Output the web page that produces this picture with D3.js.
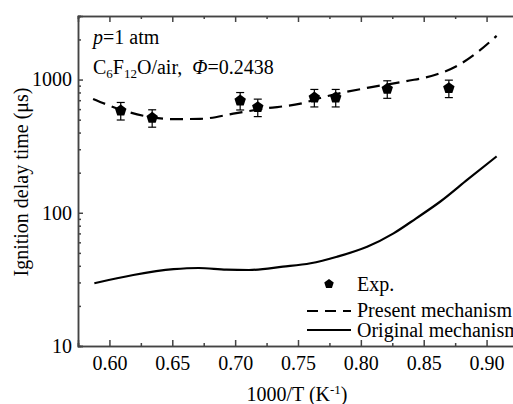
<!DOCTYPE html>
<html lang="en">
<head>
  <meta charset="UTF-8">
  <title>Ignition delay time</title>
  <style>
    body { margin: 0; background: #fff; }
    svg text { font-family: "Times New Roman", "Liberation Serif", "DejaVu Serif", serif; }
  </style>
</head>
<body>
  <svg id="svg" width="513" height="404"></svg>

  <script src="https://d3js.org/d3.v7.min.js"></script>
  <script>
    // experimental points
    const expX = [0.609, 0.634, 0.704, 0.718, 0.763, 0.780, 0.821, 0.870]
    const expY = [585, 516, 695, 620, 733, 733, 851, 861]
    const expErr = [88, 77, 104, 93, 110, 110, 128, 129]

    // present mechanism (dashed)
    const presX = [0.587, 0.609, 0.634, 0.650, 0.672, 0.701, 0.722, 0.752, 0.773, 0.805, 0.836, 0.860, 0.876, 0.892, 0.908]
    const presY = [716, 595, 520, 505, 507, 560, 603, 660, 750, 866, 972, 1090, 1259, 1585, 2130]

    // original mechanism (solid)
    const origX = [0.588, 0.619, 0.651, 0.671, 0.693, 0.711, 0.738, 0.760, 0.781, 0.805, 0.826, 0.844, 0.863, 0.885, 0.908]
    const origY = [29.6, 34.1, 37.7, 38.5, 37.4, 37.2, 39.4, 41.8, 46.8, 55.6, 70.1, 90.9, 121, 178, 265]

    const xMajor = [0.60, 0.65, 0.70, 0.75, 0.80, 0.85, 0.90]
    const xMinor = [0.575, 0.625, 0.675, 0.725, 0.775, 0.825, 0.875, 0.925]
    const yMajor = [10, 100, 1000]
    const yMinor = [20, 30, 40, 50, 60, 70, 80, 90, 200, 300, 400, 500, 600, 700, 800, 900, 2000, 3000]

    const serif = '"Times New Roman", "Liberation Serif", serif'
    const fs = 20
    const svg = d3.select('#svg').attr('font-family', serif)
    const axisColor = '#444'

    const x = d3.scaleLinear()
      .domain([0.575, 0.925])
      .range([78, 518])

    const y = d3.scaleLog()
      .domain([10, 3000])
      .range([346, 16])

    // bottom axis
    svg.append('g')
      .attr('transform', 'translate(0,346)')
      .call(d3.axisBottom(x).tickValues(xMajor).tickSize(-6).tickPadding(10).tickFormat(d3.format('.2f')))
    svg.append('g')
      .attr('transform', 'translate(0,346)')
      .call(d3.axisBottom(x).tickValues(xMinor).tickSize(-3).tickFormat(''))

    // top axis
    svg.append('g')
      .attr('transform', 'translate(0,16)')
      .call(d3.axisTop(x).tickValues(xMajor).tickSize(-6).tickFormat(''))
    svg.append('g')
      .attr('transform', 'translate(0,16)')
      .call(d3.axisTop(x).tickValues(xMinor).tickSize(-3).tickFormat(''))

    // left axis
    svg.append('g')
      .attr('transform', 'translate(78,0)')
      .call(d3.axisLeft(y).tickValues(yMajor).tickSize(-5).tickPadding(6).tickFormat(d3.format('d')))
    svg.append('g')
      .attr('transform', 'translate(78,0)')
      .call(d3.axisLeft(y).tickValues(yMinor).tickSize(-3).tickFormat(''))

    svg.selectAll('g').attr('font-family', serif)
    svg.selectAll('.domain, .tick line')
      .attr('stroke', axisColor)
      .attr('stroke-width', 1.5)
    svg.selectAll('.tick text')
      .attr('fill', '#000')
      .attr('font-size', fs)

    // curves
    const line = d3.line()
      .x(d => x(d[0]))
      .y(d => y(d[1]))
      .curve(d3.curveMonotoneX)

    svg.append('path')
      .datum(presX.map((v, i) => [v, presY[i]]))
      .attr('d', line)
      .attr('fill', 'none')
      .attr('stroke', '#000')
      .attr('stroke-width', 2.2)
      .attr('stroke-dasharray', '13,7')

    svg.append('path')
      .datum(origX.map((v, i) => [v, origY[i]]))
      .attr('d', line)
      .attr('fill', 'none')
      .attr('stroke', '#000')
      .attr('stroke-width', 2.2)

    // error bars + markers
    const expData = expX.map((v, i) => ({ x: v, y: expY[i], e: expErr[i] }))
    const pentagon = (r) => d3.range(5).map(k => {
      const a = -Math.PI / 2 + k * 2 * Math.PI / 5
      return [r * Math.cos(a), r * Math.sin(a)]
    })

    const eg = svg.selectAll('g.exp')
      .data(expData)
      .enter()
      .append('g')
      .attr('class', 'exp')

    eg.append('line')
      .attr('x1', d => x(d.x)).attr('x2', d => x(d.x))
      .attr('y1', d => y(d.y + d.e)).attr('y2', d => y(d.y - d.e))
      .attr('stroke', '#000').attr('stroke-width', 1.2)
    eg.append('line')
      .attr('x1', d => x(d.x) - 4).attr('x2', d => x(d.x) + 4)
      .attr('y1', d => y(d.y + d.e)).attr('y2', d => y(d.y + d.e))
      .attr('stroke', '#000').attr('stroke-width', 1.2)
    eg.append('line')
      .attr('x1', d => x(d.x) - 4).attr('x2', d => x(d.x) + 4)
      .attr('y1', d => y(d.y - d.e)).attr('y2', d => y(d.y - d.e))
      .attr('stroke', '#000').attr('stroke-width', 1.2)
    eg.append('polygon')
      .attr('points', pentagon(6).join(' '))
      .attr('transform', d => `translate(${x(d.x)},${y(d.y)})`)
      .attr('fill', '#000')

    // annotations
    const t1 = svg.append('text')
      .attr('x', 93).attr('y', 44)
      .attr('font-size', fs)
    t1.append('tspan').attr('font-style', 'italic').text('p')
    t1.append('tspan').text('=1 atm')

    const t2 = svg.append('text')
      .attr('x', 93).attr('y', 74)
      .attr('font-size', fs)
      .attr('xml:space', 'preserve')
    t2.append('tspan').text('C')
    t2.append('tspan').attr('dy', 4).attr('font-size', 13).text('6')
    t2.append('tspan').attr('dy', -4).text('F')
    t2.append('tspan').attr('dy', 4).attr('font-size', 13).text('12')
    t2.append('tspan').attr('dy', -4).text('O/air,  ')
    t2.append('tspan').attr('font-style', 'italic').text('Φ')
    t2.append('tspan').text('=0.2438')

    // legend
    const legend = svg.append('g').attr('font-size', fs)
    legend.append('polygon')
      .attr('points', pentagon(5).join(' '))
      .attr('transform', 'translate(329,284)')
      .attr('fill', '#000')
    legend.append('text').attr('x', 357).attr('y', 291).text('Exp.')
    legend.append('line')
      .attr('x1', 307).attr('x2', 351).attr('y1', 311).attr('y2', 311)
      .attr('stroke', '#000').attr('stroke-width', 2.2).attr('stroke-dasharray', '11,7')
    legend.append('text').attr('x', 357).attr('y', 317).text('Present mechanism')
    legend.append('line')
      .attr('x1', 307).attr('x2', 351).attr('y1', 330).attr('y2', 330)
      .attr('stroke', '#000').attr('stroke-width', 2.2)
    legend.append('text').attr('x', 357).attr('y', 337).text('Original mechanism')

    // axis titles
    svg.append('text')
      .attr('transform', 'translate(28,182) rotate(-90)')
      .attr('text-anchor', 'middle')
      .attr('font-size', fs)
      .text('Ignition delay time (μs)')

    const xt = svg.append('text')
      .attr('x', 297).attr('y', 401)
      .attr('text-anchor', 'middle')
      .attr('font-size', fs)
    xt.append('tspan').text('1000/T (K')
    xt.append('tspan').attr('dy', -7).attr('font-size', 13).text('-1')
    xt.append('tspan').attr('dy', 7).text(')')
  </script>
</body>
</html>
